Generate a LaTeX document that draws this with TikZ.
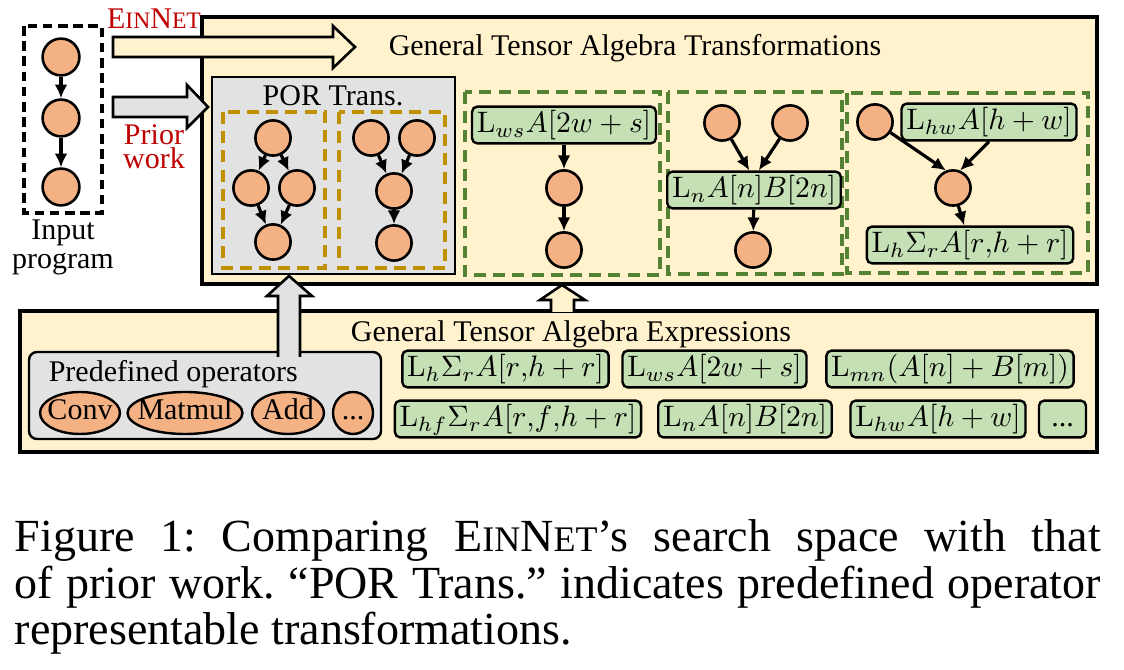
\RequirePackage{fix-cm}
\documentclass[tikz,border=0pt]{standalone}
\usepackage[no-math]{fontspec}
\setmainfont{Liberation Serif}
\usepackage{graphicx}
\usetikzlibrary{positioning}
\usetikzlibrary{arrows.meta}
\usetikzlibrary{shapes.geometric}
\definecolor{tyellow}{RGB}{255,242,204}
\definecolor{tgray}{RGB}{226,226,226}
\definecolor{torange}{RGB}{244,177,131}
\definecolor{tgreen}{RGB}{197,224,180}
\definecolor{tgold}{RGB}{191,144,0}
\definecolor{tdgreen}{RGB}{84,130,53}
\definecolor{tred}{RGB}{192,0,0}
\newcommand{\einnet}[1]{E{\fontsize{#1}{#1}\selectfont IN}N{\fontsize{#1}{#1}\selectfont ET}}
\newcommand{\lexpr}[1]{\scalebox{0.74}{$#1$}}
\tikzset{
	txt/.style={font=\fontsize{7.5}{9}\selectfont,inner sep=0pt},
	panel/.style={fill=tyellow,draw=black,line width=1pt},
	op/.style={circle,draw,fill=torange,line width=0.65pt,minimum size=8.8pt,inner sep=0pt},
	prim/.style={ellipse,draw,fill=torange,line width=0.6pt,minimum height=10.5pt,inner xsep=-2pt,inner ysep=0pt,text height=5pt,text depth=1.5pt,font=\fontsize{7.5}{9}\selectfont},
	expr/.style={draw,fill=tgreen,line width=0.6pt,rounded corners=1.3pt,inner xsep=1.2pt,inner ysep=0.8pt,text height=5.7pt,text depth=1.9pt,font=\fontsize{10}{12}\selectfont},
	flow/.style={-{Latex[length=3.4pt,width=3.2pt]},line width=0.8pt},
	inbox/.style={draw,dash pattern=on 2.4pt off 1.4pt,line width=0.8pt},
	porgroup/.style={draw=tgold,dash pattern=on 3pt off 1.8pt,line width=0.85pt},
	gtagroup/.style={draw=tdgreen,dash pattern=on 3pt off 1.8pt,line width=0.85pt},
	blockarrow/.style={draw,line width=0.65pt},
}

\begin{document}
\begin{tikzpicture}[x=0.25pt,y=-0.25pt]
	\useasboundingbox (0,0) rectangle (1124,670);
	
	% outer panels.....................
	\filldraw [panel] (202,17) rectangle (1097,284);
	\filldraw [panel] (20,311) rectangle (1097,452);
	
	% input program......................
	\draw [inbox] (24,26) rectangle (102,213);
	\node [op,minimum size=9.2pt] (in1) at (61,57) {};
	\node [op,minimum size=9.2pt] (in2) at (61,118) {};
	\node [op,minimum size=9.2pt] (in3) at (61,187) {};
	\draw [flow] (in1) -- (in2);
	\draw [flow] (in2) -- (in3);
	\node [txt,anchor=north,align=center,font=\fontsize{7.5}{7.3}\selectfont] (input) at (63,219) {Input\\program};
	
	% search arrows........................
	\filldraw [blockarrow,fill=tyellow] (113,37) -- (333,37) -- (333,26) -- (355,47) -- (333,68) -- (333,57) -- (113,57) -- cycle;
	\filldraw [blockarrow,fill=tgray] (113,97) -- (187,97) -- (187,85) -- (208,107) -- (187,128) -- (187,117) -- (113,117) -- cycle;
	\node [txt,anchor=base,text=tred] (einnet) at (154,29) {\einnet{5.9}};
	\node [txt,anchor=north,align=center,text=tred,font=\fontsize{7.5}{6}\selectfont] (prior) at (154,124) {Prior\\work};
	
	% POR trans.............................
	\filldraw [fill=tgray,line width=0.6pt] (212,77) rectangle (455,274);
	\node [txt,anchor=base] (por) at (333,106) {POR Trans.};
	\draw [porgroup] (223,112) rectangle (325,268);
	\draw [porgroup] (339,112) rectangle (445,268);
	\node [op] (pa1) at (273,138) {};
	\node [op] (pa2) at (251,188) {};
	\node [op] (pa3) at (297,188) {};
	\node [op] (pa4) at (273,242) {};
	\draw [flow] (pa1) -- (pa2);
	\draw [flow] (pa1) -- (pa3);
	\draw [flow] (pa2) -- (pa4);
	\draw [flow] (pa3) -- (pa4);
	\node [op] (pb1) at (371,138) {};
	\node [op] (pb2) at (417,138) {};
	\node [op] (pb3) at (394,191) {};
	\node [op] (pb4) at (394,243) {};
	\draw [flow] (pb1) -- (pb3);
	\draw [flow] (pb2) -- (pb3);
	\draw [flow] (pb3) -- (pb4);
	
	% general transformations...................
	\node [txt,anchor=base] (gtat) at (635,56) {General Tensor Algebra Transformations};
	\draw [gtagroup] (465,92) rectangle (660,275);
	\draw [gtagroup] (668,92) rectangle (842,274);
	\draw [gtagroup] (847,93) rectangle (1088,273);
	
	\node [expr] (gae) at (564,125) {\lexpr{\mathrm{L}_{ws}A[2w+s]}};
	\node [op] (ga1) at (564,188) {};
	\node [op] (ga2) at (564,250) {};
	\draw [flow] (gae) -- (ga1);
	\draw [flow] (ga1) -- (ga2);
	
	\node [op] (gb1) at (722,123) {};
	\node [op] (gb2) at (790,123) {};
	\node [expr] (gbe) at (754,190) {\lexpr{\mathrm{L}_{n}A[n]B[2n]}};
	\node [op] (gb3) at (753,250) {};
	\draw [flow] (gb1) -- ([xshift=-1.2pt]gbe.north);
	\draw [flow] (gb2) -- ([xshift=1.2pt]gbe.north);
	\draw [flow] (gbe) -- (gb3);
	
	\node [op] (gc1) at (875,122) {};
	\node [expr] (gce1) at (989,122) {\lexpr{\mathrm{L}_{hw}A[h+w]}};
	\node [op] (gc2) at (953,188) {};
	\node [expr] (gce2) at (970,245) {\lexpr{\mathrm{L}_{h}\Sigma_{r}A[r{,}h+r]}};
	\draw [flow] (gc1) -- (gc2.112);
	\draw [flow] (gce1.south) -- (gc2.68);
	\draw [flow] (gc2) -- (gce2);
	
	% expressions panel.........................
	\node [txt,anchor=base] (gtae) at (571,342) {General Tensor Algebra Expressions};
	\filldraw [fill=tgray,rounded corners=2pt,line width=0.6pt] (29,352) rectangle (381,439);
	\node [txt,anchor=base west] (predef) at (48,382) {Predefined operators};
	\node [prim,minimum width=20pt] (conv) at (80,413) {Conv};
	\node [prim,minimum width=28.75pt] (matmul) at (185,413) {Matmul};
	\node [prim,minimum width=18pt] (add) at (288,413) {Add};
	\node [prim,minimum width=10pt] (more) at (353,413) {...};
	
	\node [expr] (e1) at (505.5,369) {\lexpr{\mathrm{L}_{h}\Sigma_{r}A[r{,}h+r]}};
	\node [expr] (e2) at (714.5,369) {\lexpr{\mathrm{L}_{ws}A[2w+s]}};
	\node [expr] (e3) at (950,369) {\lexpr{\mathrm{L}_{mn}(A[n]+B[m])}};
	\node [expr] (e4) at (518,419) {\lexpr{\mathrm{L}_{hf}\Sigma_{r}A[r{,}f{,}h+r]}};
	\node [expr] (e5) at (745,419) {\lexpr{\mathrm{L}_{n}A[n]B[2n]}};
	\node [expr] (e6) at (938,419) {\lexpr{\mathrm{L}_{hw}A[h+w]}};
	\node [expr,minimum width=11.75pt,font=\fontsize{7.5}{9}\selectfont] (e7) at (1062.5,419) {...};
	
	% up arrows..................................
	\fill [tgray] (278,357) -- (278,296) -- (267,296) -- (289,276) -- (312,296) -- (300,296) -- (300,357) -- cycle;
	\draw [blockarrow] (278,357) -- (278,296) -- (267,296) -- (289,276) -- (312,296) -- (300,296) -- (300,357);
	\fill [tyellow] (551,312) -- (551,300) -- (540,300) -- (562,285) -- (585,300) -- (574,300) -- (574,312) -- cycle;
	\draw [blockarrow] (551,312) -- (551,300) -- (540,300) -- (562,285) -- (585,300) -- (574,300) -- (574,312);
	
	% caption.....................................
	\node [anchor=north west,text width=271.5pt,align=justify,inner sep=0pt,font=\frenchspacing\fontsize{11.5}{10.5}\selectfont] (caption) at (14,519) {Figure 1: Comparing \einnet{9}'s search space with that\linebreak of prior work. ``POR Trans.'' indicates predefined operator\linebreak representable transformations.};
\end{tikzpicture}
\end{document}
